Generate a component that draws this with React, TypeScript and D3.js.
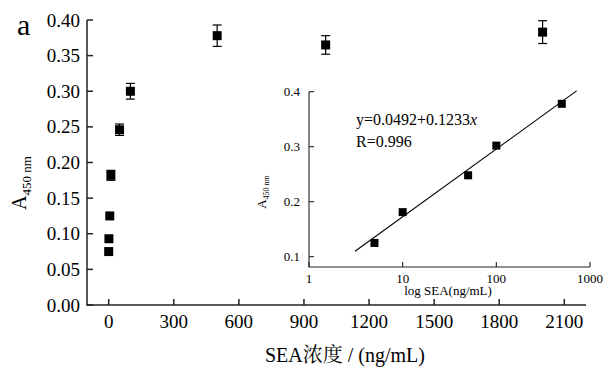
import React from "react";
import * as d3 from "d3";

const concentrations = [0, 1, 5, 10, 50, 100, 500, 1000, 2000];
const absorbance = [0.075, 0.093, 0.125, 0.182, 0.246, 0.3, 0.378, 0.365, 0.383];
const errors = [0, 0, 0, 0.007, 0.008, 0.011, 0.015, 0.013, 0.016];
const xTicks = [0, 300, 600, 900, 1200, 1500, 1800, 2100];
const yTicks = [0, 0.05, 0.1, 0.15, 0.2, 0.25, 0.3, 0.35, 0.4];

const insetConc = [5, 10, 50, 100, 500];
const insetAbs = [0.125, 0.181, 0.248, 0.302, 0.378];
const insetXTicks = [1, 10, 100, 1000];
const insetYTicks = [0.1, 0.2, 0.3, 0.4];
const fitIntercept = 0.0492;
const fitSlope = 0.1233;
const fitRange = [3.1, 720];

const SERIF = "'Liberation Serif', 'Times New Roman', 'Noto Serif CJK SC', 'Noto Sans CJK SC', serif";

export default function App() {
  const W = 607, H = 371;
  const x = d3.scaleLinear().domain([-100, 2200]).range([87, 586]);
  const y = d3.scaleLinear().domain([0, 0.4]).range([305, 20]);

  const ix = d3.scaleLog().domain([1, 1000]).range([309, 590]);
  const iy = d3.scaleLinear().domain([0.1, 0.4]).range([256.7, 91.7]);
  const iyBottom = 267;

  const fitLine = d3.line<number>()
    .x((d) => ix(d))
    .y((d) => iy(fitIntercept + fitSlope * Math.log10(d)));

  const ms = 9;
  const ims = 8;
  const axisColor = "#222";

  return (
    <svg width={W} height={H} style={{ position: "absolute", left: 0, top: 0, background: "#fff" }} fontFamily={SERIF}>
      {/* main axes */}
      <line x1={87} x2={87} y1={y(0.4)} y2={305} stroke={axisColor} strokeWidth={1.5} />
      <line x1={86.25} x2={586} y1={305} y2={305} stroke={axisColor} strokeWidth={1.5} />
      {yTicks.map((t) => (
        <g key={"y" + t}>
          <line x1={87} x2={93} y1={y(t)} y2={y(t)} stroke={axisColor} strokeWidth={1.5} />
          <text x={80} y={y(t) + 6.5} fontSize={19} textAnchor="end" fill="#000">{t.toFixed(2)}</text>
        </g>
      ))}
      {xTicks.map((t) => (
        <g key={"x" + t}>
          <line x1={x(t)} x2={x(t)} y1={305} y2={299} stroke={axisColor} strokeWidth={1.5} />
          <text x={x(t)} y={328} fontSize={19} textAnchor="middle" fill="#000">{t}</text>
        </g>
      ))}
      <text x={17} y={35} fontSize={30} fill="#000">a</text>
      <text transform={`translate(26,${183}) rotate(-90)`} textAnchor="middle" fill="#000" fontSize={20}>
        A<tspan fontSize={13} dy={5}>450 nm</tspan>
      </text>
      <text x={345} y={362} fontSize={20} textAnchor="middle" fill="#000">SEA浓度 / (ng/mL)</text>

      {/* main data */}
      {concentrations.map((c, i) => {
        const cx = x(c), cy = y(absorbance[i]);
        const e = errors[i];
        return (
          <g key={"p" + i}>
            {e > 0 && (
              <g stroke="#000" strokeWidth={1.2}>
                <line x1={cx} x2={cx} y1={y(absorbance[i] + e)} y2={y(absorbance[i] - e)} />
                <line x1={cx - 4.5} x2={cx + 4.5} y1={y(absorbance[i] + e)} y2={y(absorbance[i] + e)} />
                <line x1={cx - 4.5} x2={cx + 4.5} y1={y(absorbance[i] - e)} y2={y(absorbance[i] - e)} />
              </g>
            )}
            <rect x={cx - ms / 2} y={cy - ms / 2} width={ms} height={ms} fill="#000" />
          </g>
        );
      })}

      {/* inset axes */}
      <line x1={309} x2={309} y1={iy(0.4)} y2={iyBottom} stroke={axisColor} strokeWidth={1.1} />
      <line x1={308.5} x2={590} y1={iyBottom} y2={iyBottom} stroke={axisColor} strokeWidth={1.1} />
      {insetYTicks.map((t) => (
        <g key={"iy" + t}>
          <line x1={309} x2={314} y1={iy(t)} y2={iy(t)} stroke={axisColor} strokeWidth={1.1} />
          <text x={300} y={iy(t) + 4.5} fontSize={13} textAnchor="end" fill="#000">{t.toFixed(1)}</text>
        </g>
      ))}
      {insetXTicks.map((t) => (
        <g key={"ix" + t}>
          <line x1={ix(t)} x2={ix(t)} y1={iyBottom} y2={iyBottom - 5} stroke={axisColor} strokeWidth={1.1} />
          <text x={ix(t)} y={283} fontSize={13} textAnchor="middle" fill="#000">{t}</text>
        </g>
      ))}
      <text x={448} y={295} fontSize={13} textAnchor="middle" fill="#000">log SEA(ng/mL)</text>
      <text transform={`translate(266,${192}) rotate(-90)`} textAnchor="middle" fill="#000" fontSize={13}>
        A<tspan fontSize={8} dy={3}>450 nm</tspan>
      </text>
      <text x={356} y={125} fontSize={16} fill="#000">y=0.0492+0.1233<tspan fontStyle="italic">x</tspan></text>
      <text x={356} y={147} fontSize={16} fill="#000">R=0.996</text>

      <path d={fitLine(fitRange) || ""} stroke="#000" strokeWidth={1.1} fill="none" />
      {insetConc.map((c, i) => (
        <rect key={"ip" + i} x={ix(c) - ims / 2} y={iy(insetAbs[i]) - ims / 2} width={ims} height={ims} fill="#000" />
      ))}
    </svg>
  );
}
